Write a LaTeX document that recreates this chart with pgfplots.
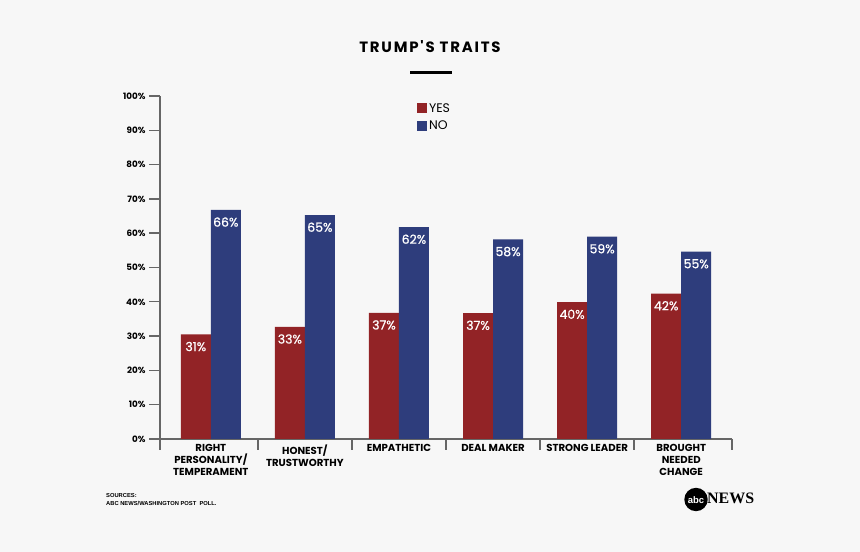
\documentclass[border=0pt]{standalone}
\usepackage{pgfplots}
\pgfplotsset{compat=1.18}
\usepackage{pgfplotstable}
\usepackage{fontspec}
\setmainfont{Poppins}
\newfontfamily\titlefont[LetterSpace=12]{Poppins}
\newfontfamily\valfont[FakeBold=0.7]{Poppins}
\newfontfamily\srcfont{Liberation Sans}
\newfontfamily\newsfont{Liberation Serif}
\definecolor{bg}{HTML}{F7F7F7}
\definecolor{yesred}{HTML}{922326}
\definecolor{noblue}{HTML}{2E3D7C}
\definecolor{axgray}{HTML}{666666}

\pgfplotstableread{
x yes no yl nl
0 30.5 66.8 31 66
1 32.7 65.3 33 65
2 36.8 61.8 37 62
3 36.7 58.2 37 58
4 39.9 59.0 40 59
5 42.4 54.6 42 55
}\traits

\begin{document}
\begin{tikzpicture}
\fill[bg] (0bp,0bp) rectangle (860bp,552bp);
\useasboundingbox (0bp,0bp) rectangle (860bp,552bp);
\node[font=\titlefont\bfseries\fontsize{15}{16}\selectfont] at (430bp,505bp) {TRUMP'S TRAITS};
\fill[black] (410bp,478bp) rectangle (452bp,481bp);

\begin{axis}[
    at={(160bp,113bp)}, anchor=south west,
    scale only axis, width=572bp, height=343bp,
    xmin=-0.54, xmax=5.54, ymin=0, ymax=100,
    axis x line=bottom, axis y line=left,
    axis line style={-, draw=axgray, line width=1.4pt},
    tick align=outside, major tick length=11bp,
    tick style={draw=axgray, line width=1.4pt},
    xtick={0,...,5},
    xtick style={draw=none},
    xticklabels={RIGHT\\PERSONALITY/\\TEMPERAMENT, HONEST/\\TRUSTWORTHY, EMPATHETIC, DEAL MAKER, STRONG LEADER, BROUGHT\\NEEDED\\CHANGE},
    xticklabel style={align=center, font=\fontsize{10.2}{12}\bfseries\selectfont, yshift=9bp},
    ytick={0,10,...,100},
    yticklabels={0\%,10\%,20\%,30\%,40\%,50\%,60\%,70\%,80\%,90\%,100\%},
    yticklabel style={font=\fontsize{8.8}{10}\bfseries\selectfont},
    ybar=0pt, bar width=30bp,
    point meta=explicit symbolic,
    nodes near coords={\pgfplotspointmeta\%},
    every node near coord/.append style={font=\valfont\fontsize{12.5}{13}\selectfont, text=white, anchor=north, yshift=-4bp},
    legend style={at={(rel axis cs:0.449,0.985)}, anchor=north west, draw=none, fill=none,
        font=\fontsize{12.5}{13}\selectfont, row sep=3bp, inner sep=0pt},
    legend cell align=left,
    legend image code/.code={\fill[#1] (0bp,-5bp) rectangle (10bp,5bp);},
    clip=false,
]
\addplot[fill=yesred, draw=none] table[x=x, y=yes, meta=yl] {\traits};
\addplot[fill=noblue, draw=none] table[x=x, y=no, meta=nl] {\traits};
\legend{YES, NO}
\pgfplotsinvokeforeach{-0.54,0.5,1.5,2.5,3.5,4.5,5.54}{
  \draw[axgray, line width=1.4pt] (axis cs:#1,0) -- ++(0bp,-11bp);
}
\end{axis}

\node[anchor=north west, align=left, inner sep=0pt, font=\srcfont\bfseries\fontsize{5.8}{8}\selectfont] at (106bp,59bp) {SOURCES:\\ABC NEWS/WASHINGTON POST\ \ POLL.};
\fill[black] (696bp,52.5bp) circle (11.7bp);
\node[text=white, font=\srcfont\bfseries\fontsize{9.5}{10}\selectfont] at (696bp,52bp) {abc};
\node[anchor=base west, inner sep=0pt, font=\newsfont\bfseries\fontsize{16}{17}\selectfont] at (707bp,48bp) {NEWS};
\end{tikzpicture}
\end{document}
